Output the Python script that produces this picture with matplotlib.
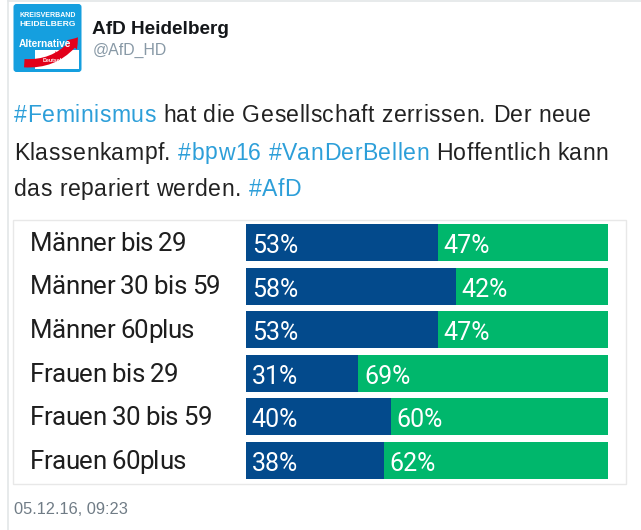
import matplotlib
matplotlib.use("Agg")
import matplotlib.pyplot as plt
from matplotlib.patches import FancyBboxPatch, Rectangle, FancyArrowPatch
from matplotlib.transforms import blended_transform_factory
from matplotlib import font_manager as fm, ft2font
import numpy as np

# ---------------- data ----------------
categories = ["Männer bis 29", "Männer 30 bis 59", "Männer 60plus",
              "Frauen bis 29", "Frauen 30 bis 59", "Frauen 60plus"]
blue_values = [53, 58, 53, 31, 40, 38]
green_values = [47, 42, 47, 69, 60, 62]

account_name = "AfD Heidelberg"
account_handle = "@AfD_HD"
tweet_lines = [
    [("#Feminismus", "tag"), (" hat die Gesellschaft zerrissen. Der neue", "txt")],
    [("Klassenkampf. ", "txt"), ("#bpw16 #VanDerBellen", "tag"), (" Hoffentlich kann", "txt")],
    [("das repariert werden. ", "txt"), ("#AfD", "tag")],
]
timestamp = "05.12.16, 09:23"

# ---------------- style ----------------
W, H = 641, 530
BLUE = "#034a8c"
GREEN = "#00b76c"
TAG = "#2d9fd9"
TXT = "#222222"
GREY = "#707c86"
BORDER = "#e3e6e8"

fig = plt.figure(figsize=(W / 100, H / 100), dpi=100)
fig.patch.set_facecolor("white")


def fx(x):
    return x / W


def fy(y):
    return 1 - y / H


def advances(s, family, size_pt, weight="normal"):
    path = fm.findfont(fm.FontProperties(family=family, weight=weight))
    f = ft2font.FT2Font(path)
    f.set_size(size_pt, 100)
    return [f.load_char(ord(c)).linearHoriAdvance / 65536.0 for c in s]


def draw_tracked(x, base, s, color, family, size, tracking, transform=None):
    adv = advances(s, family, size)
    for c, a in zip(s, adv):
        if c != " ":
            if transform is None:
                fig.text(fx(x), fy(base), c, color=color, family=family, fontsize=size,
                         va="baseline", ha="left")
            else:
                fig.text(fx(x), base, c, color=color, family=family, fontsize=size,
                         va="baseline", ha="left", transform=transform)
        x += a + tracking
    return x


# tweet card left border + top border
fig.add_artist(plt.Line2D([fx(8), fx(8)], [0, 1], color=BORDER, lw=1.2))
fig.add_artist(plt.Line2D([fx(8), 1], [fy(1), fy(1)], color=BORDER, lw=1.2))

# ---------------- logo ----------------
lax = fig.add_axes([fx(12.5), fy(73), fx(70), 70 / H])
lax.set_xlim(0, 70)
lax.set_ylim(70, 0)
lax.axis("off")
lax.add_patch(FancyBboxPatch((1, 1), 68, 68, boxstyle="round,pad=0,rounding_size=3",
                             fc="#159fdf", ec="none"))
lax.text(35, 12.5, "KREISVERBAND", color="white", fontsize=5.0, fontweight="bold",
         ha="center", va="center", family="Liberation Sans")
lax.text(35, 21, "HEIDELBERG", color="white", fontsize=6.1, fontweight="bold",
         ha="center", va="center", family="Liberation Sans")
lax.add_patch(Rectangle((22, 47), 44, 19, fc="white", ec="none"))
lax.add_patch(FancyArrowPatch((9, 60), (67, 32), connectionstyle="arc3,rad=0.3",
                              arrowstyle="simple,head_width=10,head_length=7,tail_width=6",
                              fc="#e2001a", ec="none", mutation_scale=1))
lax.text(32, 41, "Alternative", color="white", fontsize=7.3, fontweight="bold",
         ha="center", va="center", family="Liberation Sans")
lax.text(45, 50.5, "für", color="#e2001a", fontsize=2.8, ha="center", va="center",
         family="Liberation Sans")
lax.text(46, 58, "Deutschland", color="white", fontsize=3.8, fontweight="bold",
         ha="center", va="center", family="Liberation Sans")

# ---------------- header ----------------
fig.text(fx(92), fy(34.5), account_name, fontsize=13.7, fontweight="bold", color="#14171a",
         family="Liberation Sans", va="baseline", ha="left")
fig.text(fx(93), fy(54.5), account_handle, fontsize=11.4, color="#8899a6",
         family="Liberation Sans", va="baseline", ha="left")

# ---------------- tweet text ----------------
TF = "Liberation Sans"
TS = 16.6
line1 = "".join(s for s, _ in tweet_lines[0])
nat = sum(advances(line1, TF, TS))
track = (577 - nat) / (len(line1) - 1)

baselines = [122, 159.5, 195.5]
for line, base in zip(tweet_lines, baselines):
    x = 14
    for s, kind in line:
        x = draw_tracked(x, base, s, TAG if kind == "tag" else TXT, TF, TS, track)

# ---------------- chart box ----------------
fig.add_artist(Rectangle((fx(13), fy(483.5)), fx(626) - fx(13), fy(220) - fy(483.5),
                         transform=fig.transFigure, fc="white", ec="#e8e8e8", lw=1.0,
                         zorder=-1))

# ---------------- bars ----------------
top_px, bot_px = 220.7, 482.3
ax = fig.add_axes([fx(246), fy(bot_px), fx(608) - fx(246), (bot_px - top_px) / H])
ax.patch.set_alpha(0)
y = np.arange(len(categories))
ax.barh(y, blue_values, height=0.85, color=BLUE, edgecolor="none")
ax.barh(y, green_values, left=blue_values, height=0.85, color=GREEN, edgecolor="none")
ax.set_xlim(0, 100)
ax.set_ylim(len(categories) - 0.5, -0.5)
ax.axis("off")

pad = 1.6
PFONT = dict(family="Roboto", fontsize=18, color="white")
lab_tr = blended_transform_factory(fig.transFigure, ax.transData)
for i, (c, b, g) in enumerate(zip(categories, blue_values, green_values)):
    draw_tracked(30, i + 0.19, c, "#1e1e1e", "Roboto", 18.6, -0.6, transform=lab_tr)
    ax.text(pad, i + 0.24, f"{b}%", va="baseline", ha="left", **PFONT)
    ax.text(b + pad, i + 0.24, f"{g}%", va="baseline", ha="left", **PFONT)

# ---------------- timestamp ----------------
fig.text(fx(14), fy(514), timestamp, fontsize=11.8, color=GREY, family="Liberation Sans",
         va="baseline", ha="left")

fig.savefig("out.png", dpi=100, facecolor="white")
